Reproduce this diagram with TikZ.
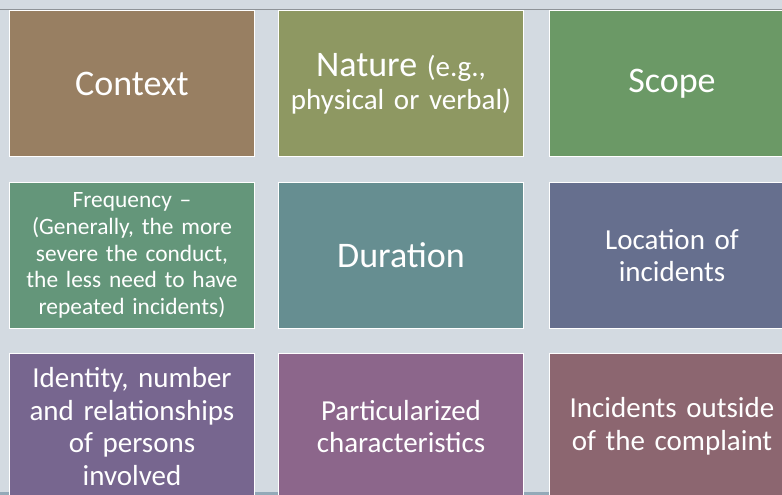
\documentclass[tikz,border=0pt]{standalone}
\usepackage{fontspec}
\setmainfont{Carlito}
\definecolor{bg}{HTML}{D3DAE1}
\definecolor{topline}{HTML}{8E9398}
\definecolor{band}{HTML}{93A9B8}
\definecolor{cContext}{HTML}{987F62}
\definecolor{cNature}{HTML}{8E9862}
\definecolor{cScope}{HTML}{6B9966}
\definecolor{cFreq}{HTML}{64967A}
\definecolor{cDur}{HTML}{668E91}
\definecolor{cLoc}{HTML}{666F8E}
\definecolor{cIdent}{HTML}{77668F}
\definecolor{cPart}{HTML}{8C668B}
\definecolor{cOut}{HTML}{8C6670}
\begin{document}
\begin{tikzpicture}[x=1bp,y=-1bp,
  tile/.style={draw=white, line width=1bp, minimum width=245bp, minimum height=146bp,
    inner sep=4bp, text=white, align=center, anchor=north west, text width=235bp},
  big/.style={font=\fontsize{36bp}{40bp}\selectfont},
  mid/.style={font=\fontsize{29bp}{32.7bp}\selectfont},
  small/.style={font=\fontsize{23.4bp}{26.8bp}\selectfont},
]
\useasboundingbox (0,0) rectangle (782,495);
\clip (0,0) rectangle (782,495);
% backdrop with the thin rule at the top and the band at the bottom
\fill[bg] (0,0) rectangle (782,495);
\fill[topline] (0,9) rectangle (782,10.5);
\fill[band] (0,492) rectangle (782,495);

% first row
\node[tile, big, fill=cContext] (context) at (9,10) {Context};
\node[tile, mid, fill=cNature] (nature) at (278,10)
  {{\fontsize{36bp}{32bp}\selectfont Nature} (e.g.,\\physical or verbal)};
\node[tile, big, fill=cScope] (scope) at (549,10) {Scope};

% second row
\node[tile, small, fill=cFreq] (freq) at (9,182)
  {Frequency --\\(Generally, the more\\severe the conduct,\\the less need to have\\repeated incidents)};
\node[tile, big, fill=cDur] (duration) at (278,182) {Duration};
\node[tile, mid, fill=cLoc] (location) at (549,182) {Location of\\incidents};

% third row
\node[tile, mid, fill=cIdent] (identity) at (9,353)
  {Identity, number\\and relationships\\of persons\\involved};
\node[tile, mid, fill=cPart] (particular) at (278,353)
  {Particularized\\characteristics};
\node[tile, mid, fill=cOut] (outside) at (549,353)
  {Incidents outside\\of the complaint};
\end{tikzpicture}
\end{document}
